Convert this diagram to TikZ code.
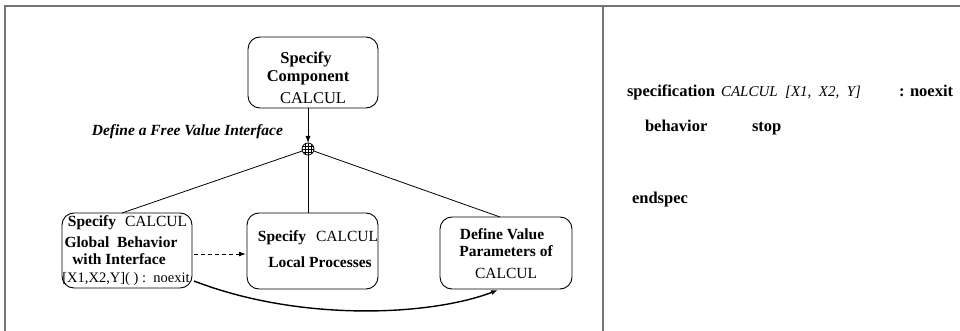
\documentclass[tikz,border=0pt]{standalone}
\usepackage{fontspec}
\setmainfont{Liberation Serif}
\usetikzlibrary{arrows.meta}
\begin{document}
\begin{tikzpicture}[x=1pt,y=-1pt,
  every node/.style={inner sep=0pt, outer sep=0pt},
  box/.style={draw, rounded corners=12pt, line width=0.9pt, inner sep=0pt},
  bt/.style={font=\fontsize{15.5}{17}\selectfont\bfseries},
  rt/.style={font=\fontsize{15.5}{17}\selectfont},
  bbt/.style={font=\fontsize{16.5}{18}\selectfont\bfseries},
  brt/.style={font=\fontsize{16.5}{18}\selectfont},
  it/.style={font=\fontsize{15}{17}\selectfont\itshape},
  bit/.style={font=\fontsize{15.5}{17}\selectfont\bfseries\itshape},
  frameline/.style={draw=black!55, line width=1.3pt},
  conn/.style={line width=0.8pt},
  tip/.style={-{Latex[length=7pt,width=5pt]}}
]
\useasboundingbox (0,0) rectangle (960,331);
% frame
\draw[frameline] (5,331) -- (5,6) -- (960,6);
\draw[frameline] (603,6) -- (603,331);

% boxes
\node[box, minimum width=130pt, minimum height=71pt] (top) at (313,72.5) {};
\node[box, minimum width=130pt, minimum height=75pt] (left) at (127,250.5) {};
\node[box, minimum width=131pt, minimum height=76pt] (mid) at (312.5,251) {};
\node[box, minimum width=132pt, minimum height=72pt] (right) at (506,253) {};

% texts in boxes
\node[bbt] (t1) at (306,59) {Specify};
\node[bbt] (t2) at (308,78) {Component};
\node[brt] (t3) at (313,98) {CALCUL};

\node[bt] (l1) at (92,223) {Specify};
\node[rt] (l2) at (156,221) {CALCUL};
\node[bt] (l3) at (121,242) {Global\ \ Behavior};
\node[bt] (l4) at (119,259) {with Interface};
\node[rt, font=\fontsize{14.5}{16}\selectfont] (l5) at (126,279) {[X1,X2,Y]( ) :\ \ noexit};

\node[bt] (m1) at (282,238) {Specify};
\node[rt] (m2) at (347,236) {CALCUL};
\node[bt] (m3) at (320,262) {Local Processes};

\node[bt] (r1) at (502,234) {Define Value};
\node[bt] (r2) at (506,251) {Parameters of};
\node[rt] (r3) at (506,273) {CALCUL};

% globe
\node[circle, draw, line width=0.8pt, minimum size=12pt] (globe) at (308,149) {};
\begin{scope}
  \clip (308,149) circle (6pt);
  \foreach \d in {-3,0,3} {
    \draw[line width=0.5pt] (308+\d,140) -- (308+\d,158);
    \draw[line width=0.5pt] (299,149+\d) -- (317,149+\d);
  }
\end{scope}
\coordinate (topout) at (308,108);
\draw[conn, tip] (topout) -- (globe.north);

\node[bit, anchor=east] (iface) at (283,132) {Define a Free Value Interface};

\coordinate (lt) at (122,213);
\coordinate (mt) at (308,213);
\coordinate (rt) at (500,217);
\draw[conn] (globe) -- (lt);
\draw[conn] (globe.south) -- (mt);
\draw[conn] (globe) -- (rt);

% dashed arrow
\coordinate (ds) at (194,254);
\coordinate (de) at (246,254);
\draw[conn, dash pattern=on 4pt off 3pt, line width=1pt, tip] (ds) -- (de);

% curved arrow
\coordinate (cs) at (194,281);
\coordinate (ce) at (498,290);
\draw[line width=1.4pt, tip] (cs) .. controls (300,322) and (430,316) .. (ce);

% right panel
\node[bbt, anchor=base west] (spec) at (627,97) {specification};
\node[it, anchor=base west] (calc) at (721,97) {CALCUL\ \ [X1,\ \ X2,\ \ Y]};
\node[bbt, anchor=base west] (colon) at (899,97) {:};
\node[bbt, anchor=base west] (noex) at (910,97) {noexit};
\node[bbt, anchor=base west] (beh) at (645,132) {behavior};
\node[bbt, anchor=base west] (stop) at (752,132) {stop};
\node[bbt, anchor=base west] (endsp) at (632,204) {endspec};
\end{tikzpicture}
\end{document}
